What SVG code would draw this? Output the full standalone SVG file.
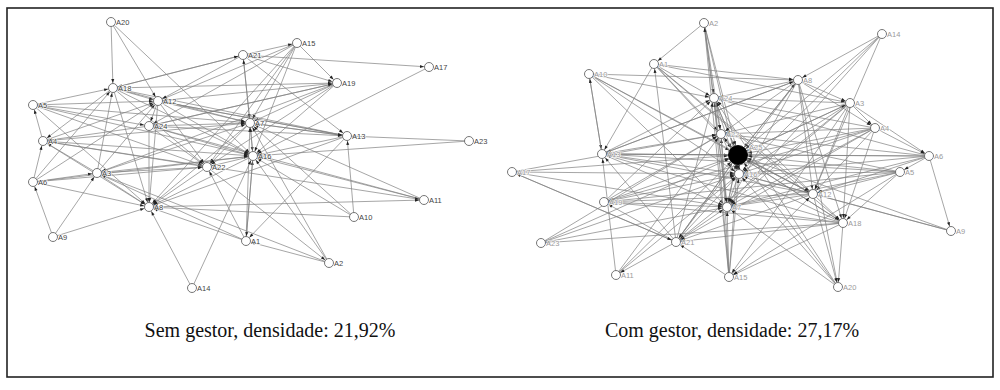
<svg xmlns="http://www.w3.org/2000/svg" width="1000" height="390" viewBox="0 0 1000 390">
<style>
.e line{stroke:#808080;stroke-width:0.7;fill:none;marker-end:url(#a)}
.e line.h{marker-end:url(#h)}
.n circle{fill:#fff;stroke:#666;stroke-width:0.9}
.n text{font-family:"Liberation Sans",Arial,sans-serif;font-size:7.5px;fill:#444;stroke:#fff;stroke-width:1.6;stroke-opacity:0.85;paint-order:stroke;stroke-linejoin:round}
.r text{fill:#9a9a9a}
.cap{font-family:"Liberation Serif","Times New Roman",serif;font-size:20px;fill:#111;text-anchor:middle}
</style>
<defs>
<marker id="a" markerUnits="userSpaceOnUse" markerWidth="20" markerHeight="20" viewBox="-20 -10 20 20" refX="0" refY="0" orient="auto"><path d="M-9,-1.5 L-5,0 L-9,1.5 z" fill="#222"/></marker>
<marker id="h" markerUnits="userSpaceOnUse" markerWidth="24" markerHeight="20" viewBox="-24 -10 24 20" refX="0" refY="0" orient="auto"><path d="M-14,-1.5 L-10,0 L-14,1.5 z" fill="#222"/></marker>
</defs>
<rect x="0" y="0" width="1000" height="390" fill="#fff"/>
<rect x="7" y="8" width="986" height="369" fill="none" stroke="#222" stroke-width="1.6"/>
<g id="connectors-left" class="e">
<line x1="111" y1="22" x2="113" y2="88"/><line x1="111" y1="22" x2="158" y2="101"/><line x1="111" y1="22" x2="253" y2="156"/>
<line x1="243" y1="55" x2="113" y2="88"/><line x1="243" y1="55" x2="158" y2="101"/><line x1="243" y1="55" x2="250" y2="123"/>
<line x1="243" y1="55" x2="337" y2="83"/><line x1="243" y1="55" x2="429" y2="67"/><line x1="243" y1="55" x2="347" y2="136"/>
<line x1="243" y1="55" x2="297" y2="43"/>
<line x1="297" y1="43" x2="250" y2="123"/><line x1="297" y1="43" x2="253" y2="156"/><line x1="297" y1="43" x2="337" y2="83"/>
<line x1="297" y1="43" x2="158" y2="101"/><line x1="297" y1="43" x2="149" y2="126"/><line x1="297" y1="43" x2="207" y2="167"/>
<line x1="297" y1="43" x2="149" y2="207"/><line x1="429" y1="67" x2="253" y2="156"/>
<line x1="337" y1="83" x2="250" y2="123"/><line x1="337" y1="83" x2="158" y2="101"/><line x1="337" y1="83" x2="149" y2="126"/>
<line x1="337" y1="83" x2="253" y2="156"/><line x1="337" y1="83" x2="207" y2="167"/><line x1="337" y1="83" x2="97" y2="173"/>
<line x1="347" y1="136" x2="250" y2="123"/><line x1="347" y1="136" x2="158" y2="101"/><line x1="347" y1="136" x2="113" y2="88"/>
<line x1="347" y1="136" x2="253" y2="156"/><line x1="354" y1="217" x2="347" y2="136"/><line x1="469" y1="141" x2="347" y2="136"/>
<line x1="469" y1="141" x2="253" y2="156"/><line x1="347" y1="136" x2="246" y2="241"/><line x1="347" y1="136" x2="149" y2="207"/>
<line x1="424" y1="200" x2="253" y2="156"/><line x1="424" y1="200" x2="250" y2="123"/><line x1="424" y1="200" x2="149" y2="126"/>
<line x1="354" y1="217" x2="253" y2="156"/><line x1="354" y1="217" x2="149" y2="207"/><line x1="354" y1="217" x2="250" y2="123"/>
<line x1="329" y1="263" x2="246" y2="241"/><line x1="329" y1="263" x2="253" y2="156"/><line x1="329" y1="263" x2="250" y2="123"/>
<line x1="329" y1="263" x2="97" y2="173"/>
<line x1="246" y1="241" x2="253" y2="156"/><line x1="246" y1="241" x2="250" y2="123"/><line x1="246" y1="241" x2="149" y2="207"/>
<line x1="246" y1="241" x2="97" y2="173"/><line x1="246" y1="241" x2="207" y2="167"/>
<line x1="192" y1="288" x2="149" y2="207"/><line x1="192" y1="288" x2="253" y2="156"/>
<line x1="53" y1="237" x2="33" y2="182"/><line x1="53" y1="237" x2="149" y2="207"/><line x1="53" y1="237" x2="97" y2="173"/>
<line x1="33" y1="182" x2="43" y2="141"/><line x1="33" y1="182" x2="97" y2="173"/><line x1="33" y1="182" x2="207" y2="167"/>
<line x1="33" y1="182" x2="253" y2="156"/><line x1="33" y1="182" x2="158" y2="101"/><line x1="33" y1="182" x2="113" y2="88"/>
<line x1="33" y1="182" x2="149" y2="207"/>
<line x1="97" y1="173" x2="207" y2="167"/><line x1="97" y1="173" x2="149" y2="207"/><line x1="97" y1="173" x2="113" y2="88"/>
<line x1="97" y1="173" x2="158" y2="101"/><line x1="97" y1="173" x2="250" y2="123"/><line x1="97" y1="173" x2="253" y2="156"/>
<line x1="97" y1="173" x2="43" y2="141"/>
<line x1="43" y1="141" x2="33" y2="105"/><line x1="43" y1="141" x2="253" y2="156"/><line x1="43" y1="141" x2="250" y2="123"/>
<line x1="43" y1="141" x2="207" y2="167"/><line x1="43" y1="141" x2="158" y2="101"/><line x1="43" y1="141" x2="149" y2="207"/>
<line x1="33" y1="105" x2="113" y2="88"/><line x1="33" y1="105" x2="158" y2="101"/><line x1="33" y1="105" x2="250" y2="123"/>
<line x1="33" y1="105" x2="253" y2="156"/><line x1="33" y1="105" x2="149" y2="126"/><line x1="33" y1="105" x2="207" y2="167"/>
<line x1="33" y1="105" x2="149" y2="207"/>
<line x1="113" y1="88" x2="158" y2="101"/><line x1="113" y1="88" x2="250" y2="123"/><line x1="113" y1="88" x2="253" y2="156"/>
<line x1="113" y1="88" x2="149" y2="207"/><line x1="113" y1="88" x2="43" y2="141"/><line x1="113" y1="88" x2="207" y2="167"/>
<line x1="113" y1="88" x2="243" y2="55"/>
<line x1="158" y1="101" x2="250" y2="123"/><line x1="158" y1="101" x2="149" y2="126"/><line x1="158" y1="101" x2="253" y2="156"/>
<line x1="158" y1="101" x2="149" y2="207"/><line x1="158" y1="101" x2="207" y2="167"/>
<line x1="149" y1="126" x2="250" y2="123"/><line x1="149" y1="126" x2="253" y2="156"/><line x1="149" y1="126" x2="149" y2="207"/>
<line x1="149" y1="126" x2="207" y2="167"/><line x1="149" y1="126" x2="43" y2="141"/><line x1="149" y1="126" x2="347" y2="136"/>
<line x1="250" y1="123" x2="253" y2="156"/><line x1="250" y1="123" x2="207" y2="167"/><line x1="250" y1="123" x2="149" y2="207"/>
<line x1="250" y1="123" x2="347" y2="136"/>
<line x1="253" y1="156" x2="207" y2="167"/><line x1="253" y1="156" x2="149" y2="207"/><line x1="253" y1="156" x2="246" y2="241"/>
<line x1="207" y1="167" x2="149" y2="207"/><line x1="207" y1="167" x2="329" y2="263"/>
<line x1="158" y1="101" x2="347" y2="136"/><line x1="149" y1="126" x2="337" y2="83"/><line x1="113" y1="88" x2="337" y2="83"/>
<line x1="149" y1="207" x2="424" y2="200"/><line x1="43" y1="141" x2="424" y2="200"/>
<line x1="250" y1="123" x2="243" y2="55"/><line x1="253" y1="156" x2="250" y2="123"/>
</g>
<g id="connectors-right" class="e">
<line class="h" x1="704" y1="23" x2="738" y2="155"/><line class="h" x1="654" y1="64" x2="738" y2="155"/><line class="h" x1="589" y1="74" x2="738" y2="155"/>
<line class="h" x1="798" y1="80" x2="738" y2="155"/><line class="h" x1="850" y1="103" x2="738" y2="155"/><line class="h" x1="875" y1="128" x2="738" y2="155"/>
<line class="h" x1="929" y1="156" x2="738" y2="155"/><line class="h" x1="900" y1="172" x2="738" y2="155"/><line class="h" x1="951" y1="231" x2="738" y2="155"/>
<line class="h" x1="813" y1="194" x2="738" y2="155"/><line class="h" x1="843" y1="223" x2="738" y2="155"/><line class="h" x1="838" y1="287" x2="738" y2="155"/>
<line class="h" x1="729" y1="277" x2="738" y2="155"/><line class="h" x1="676" y1="242" x2="738" y2="155"/><line class="h" x1="616" y1="275" x2="738" y2="155"/>
<line class="h" x1="541" y1="243" x2="738" y2="155"/><line class="h" x1="604" y1="202" x2="738" y2="155"/><line class="h" x1="512" y1="172" x2="738" y2="155"/>
<line class="h" x1="602" y1="154" x2="738" y2="155"/><line class="h" x1="714" y1="98" x2="738" y2="155"/><line class="h" x1="721" y1="134" x2="738" y2="155"/>
<line class="h" x1="739" y1="174" x2="738" y2="155"/><line class="h" x1="727" y1="207" x2="738" y2="155"/><line class="h" x1="882" y1="34" x2="738" y2="155"/>
<line x1="738" y1="155" x2="714" y2="98"/><line x1="738" y1="155" x2="721" y2="134"/><line x1="738" y1="155" x2="739" y2="174"/>
<line x1="738" y1="155" x2="727" y2="207"/><line x1="738" y1="155" x2="813" y2="194"/><line x1="738" y1="155" x2="843" y2="223"/>
<line x1="738" y1="155" x2="850" y2="103"/><line x1="738" y1="155" x2="798" y2="80"/><line x1="738" y1="155" x2="676" y2="242"/>
<line x1="738" y1="155" x2="602" y2="154"/>
<line x1="704" y1="23" x2="654" y2="64"/><line x1="704" y1="23" x2="714" y2="98"/><line x1="704" y1="23" x2="739" y2="174"/>
<line x1="704" y1="23" x2="727" y2="207"/><line x1="704" y1="23" x2="721" y2="134"/>
<line x1="654" y1="64" x2="798" y2="80"/><line x1="654" y1="64" x2="714" y2="98"/><line x1="654" y1="64" x2="602" y2="154"/>
<line x1="654" y1="64" x2="813" y2="194"/><line x1="654" y1="64" x2="843" y2="223"/><line x1="654" y1="64" x2="850" y2="103"/>
<line x1="654" y1="64" x2="721" y2="134"/>
<line x1="589" y1="74" x2="798" y2="80"/><line x1="589" y1="74" x2="714" y2="98"/><line x1="589" y1="74" x2="602" y2="154"/>
<line x1="589" y1="74" x2="813" y2="194"/><line x1="589" y1="74" x2="727" y2="207"/><line x1="589" y1="74" x2="739" y2="174"/>
<line x1="882" y1="34" x2="798" y2="80"/><line x1="882" y1="34" x2="727" y2="207"/><line x1="882" y1="34" x2="813" y2="194"/>
<line x1="882" y1="34" x2="739" y2="174"/>
<line x1="798" y1="80" x2="714" y2="98"/><line x1="798" y1="80" x2="721" y2="134"/><line x1="798" y1="80" x2="850" y2="103"/>
<line x1="798" y1="80" x2="875" y2="128"/><line x1="798" y1="80" x2="813" y2="194"/><line x1="798" y1="80" x2="843" y2="223"/>
<line x1="798" y1="80" x2="838" y2="287"/><line x1="798" y1="80" x2="727" y2="207"/><line x1="798" y1="80" x2="676" y2="242"/>
<line x1="798" y1="80" x2="602" y2="154"/>
<line x1="850" y1="103" x2="875" y2="128"/><line x1="850" y1="103" x2="929" y2="156"/><line x1="850" y1="103" x2="721" y2="134"/>
<line x1="850" y1="103" x2="714" y2="98"/><line x1="850" y1="103" x2="727" y2="207"/><line x1="850" y1="103" x2="813" y2="194"/>
<line x1="850" y1="103" x2="843" y2="223"/><line x1="850" y1="103" x2="729" y2="277"/><line x1="850" y1="103" x2="676" y2="242"/>
<line x1="850" y1="103" x2="739" y2="174"/>
<line x1="875" y1="128" x2="929" y2="156"/><line x1="875" y1="128" x2="739" y2="174"/><line x1="875" y1="128" x2="727" y2="207"/>
<line x1="875" y1="128" x2="813" y2="194"/><line x1="875" y1="128" x2="843" y2="223"/><line x1="875" y1="128" x2="604" y2="202"/>
<line x1="875" y1="128" x2="676" y2="242"/><line x1="875" y1="128" x2="721" y2="134"/><line x1="875" y1="128" x2="714" y2="98"/>
<line x1="929" y1="156" x2="739" y2="174"/><line x1="929" y1="156" x2="714" y2="98"/><line x1="929" y1="156" x2="721" y2="134"/>
<line x1="929" y1="156" x2="951" y2="231"/><line x1="929" y1="156" x2="813" y2="194"/><line x1="929" y1="156" x2="727" y2="207"/>
<line x1="929" y1="156" x2="900" y2="172"/><line x1="929" y1="156" x2="602" y2="154"/>
<line x1="900" y1="172" x2="739" y2="174"/><line x1="900" y1="172" x2="727" y2="207"/><line x1="900" y1="172" x2="813" y2="194"/>
<line x1="900" y1="172" x2="843" y2="223"/><line x1="900" y1="172" x2="729" y2="277"/><line x1="900" y1="172" x2="602" y2="154"/>
<line x1="900" y1="172" x2="604" y2="202"/><line x1="900" y1="172" x2="721" y2="134"/>
<line x1="951" y1="231" x2="813" y2="194"/><line x1="951" y1="231" x2="739" y2="174"/>
<line x1="813" y1="194" x2="739" y2="174"/><line x1="813" y1="194" x2="727" y2="207"/><line x1="813" y1="194" x2="843" y2="223"/>
<line x1="813" y1="194" x2="838" y2="287"/><line x1="813" y1="194" x2="676" y2="242"/><line x1="813" y1="194" x2="602" y2="154"/>
<line x1="813" y1="194" x2="604" y2="202"/><line x1="813" y1="194" x2="714" y2="98"/>
<line x1="843" y1="223" x2="727" y2="207"/><line x1="843" y1="223" x2="838" y2="287"/><line x1="843" y1="223" x2="676" y2="242"/>
<line x1="843" y1="223" x2="604" y2="202"/><line x1="843" y1="223" x2="602" y2="154"/><line x1="843" y1="223" x2="541" y2="243"/>
<line x1="843" y1="223" x2="729" y2="277"/><line x1="843" y1="223" x2="739" y2="174"/>
<line x1="838" y1="287" x2="727" y2="207"/><line x1="838" y1="287" x2="739" y2="174"/><line x1="838" y1="287" x2="714" y2="98"/>
<line x1="729" y1="277" x2="727" y2="207"/><line x1="729" y1="277" x2="739" y2="174"/><line x1="729" y1="277" x2="704" y2="23"/>
<line x1="729" y1="277" x2="721" y2="134"/><line x1="729" y1="277" x2="714" y2="98"/><line x1="729" y1="277" x2="676" y2="242"/>
<line x1="729" y1="277" x2="813" y2="194"/>
<line x1="676" y1="242" x2="727" y2="207"/><line x1="676" y1="242" x2="604" y2="202"/><line x1="676" y1="242" x2="512" y2="172"/>
<line x1="676" y1="242" x2="602" y2="154"/><line x1="676" y1="242" x2="739" y2="174"/><line x1="676" y1="242" x2="654" y2="64"/>
<line x1="676" y1="242" x2="616" y2="275"/><line x1="676" y1="242" x2="714" y2="98"/>
<line x1="616" y1="275" x2="739" y2="174"/><line x1="616" y1="275" x2="721" y2="134"/><line x1="616" y1="275" x2="602" y2="154"/>
<line x1="541" y1="243" x2="727" y2="207"/><line x1="541" y1="243" x2="739" y2="174"/><line x1="541" y1="243" x2="721" y2="134"/>
<line x1="604" y1="202" x2="727" y2="207"/><line x1="604" y1="202" x2="739" y2="174"/><line x1="604" y1="202" x2="714" y2="98"/>
<line x1="604" y1="202" x2="721" y2="134"/>
<line x1="512" y1="172" x2="739" y2="174"/><line x1="512" y1="172" x2="676" y2="242"/><line x1="512" y1="172" x2="721" y2="134"/>
<line x1="512" y1="172" x2="727" y2="207"/>
<line x1="602" y1="154" x2="739" y2="174"/><line x1="602" y1="154" x2="721" y2="134"/><line x1="602" y1="154" x2="727" y2="207"/>
<line x1="602" y1="154" x2="589" y2="74"/><line x1="602" y1="154" x2="714" y2="98"/><line x1="602" y1="154" x2="798" y2="80"/>
<line x1="714" y1="98" x2="721" y2="134"/><line x1="714" y1="98" x2="739" y2="174"/><line x1="714" y1="98" x2="727" y2="207"/>
<line x1="721" y1="134" x2="739" y2="174"/><line x1="721" y1="134" x2="727" y2="207"/><line x1="739" y1="174" x2="727" y2="207"/>
</g>
<g class="n">
<g id="L-A1"><circle cx="246" cy="241" r="4.5"/><text x="251" y="244">A1</text></g>
<g id="L-A2"><circle cx="329" cy="263" r="4.5"/><text x="334" y="266">A2</text></g>
<g id="L-A3"><circle cx="97" cy="173" r="4.5"/><text x="102" y="176">A3</text></g>
<g id="L-A4"><circle cx="43" cy="141" r="4.5"/><text x="48" y="144">A4</text></g>
<g id="L-A5"><circle cx="33" cy="105" r="4.5"/><text x="38" y="108">A5</text></g>
<g id="L-A6"><circle cx="33" cy="182" r="4.5"/><text x="38" y="185">A6</text></g>
<g id="L-A7"><circle cx="250" cy="123" r="4.5"/><text x="255" y="126">A7</text></g>
<g id="L-A8"><circle cx="149" cy="207" r="4.5"/><text x="154" y="210">A8</text></g>
<g id="L-A9"><circle cx="53" cy="237" r="4.5"/><text x="58" y="240">A9</text></g>
<g id="L-A10"><circle cx="354" cy="217" r="4.5"/><text x="359" y="220">A10</text></g>
<g id="L-A11"><circle cx="424" cy="200" r="4.5"/><text x="429" y="203">A11</text></g>
<g id="L-A12"><circle cx="158" cy="101" r="4.5"/><text x="163" y="104">A12</text></g>
<g id="L-A13"><circle cx="347" cy="136" r="4.5"/><text x="352" y="139">A13</text></g>
<g id="L-A14"><circle cx="192" cy="288" r="4.5"/><text x="197" y="291">A14</text></g>
<g id="L-A15"><circle cx="297" cy="43" r="4.5"/><text x="302" y="46">A15</text></g>
<g id="L-A16"><circle cx="253" cy="156" r="4.5"/><text x="258" y="159">A16</text></g>
<g id="L-A17"><circle cx="429" cy="67" r="4.5"/><text x="434" y="70">A17</text></g>
<g id="L-A18"><circle cx="113" cy="88" r="4.5"/><text x="118" y="91">A18</text></g>
<g id="L-A19"><circle cx="337" cy="83" r="4.5"/><text x="342" y="86">A19</text></g>
<g id="L-A20"><circle cx="111" cy="22" r="4.5"/><text x="116" y="25">A20</text></g>
<g id="L-A21"><circle cx="243" cy="55" r="4.5"/><text x="248" y="58">A21</text></g>
<g id="L-A22"><circle cx="207" cy="167" r="4.5"/><text x="212" y="170">A22</text></g>
<g id="L-A23"><circle cx="469" cy="141" r="4.5"/><text x="474" y="144">A23</text></g>
<g id="L-A24"><circle cx="149" cy="126" r="4.5"/><text x="154" y="129">A24</text></g>
</g>
<g class="n r">
<g id="R-A1"><circle cx="654" cy="64" r="4.5"/><text x="659" y="67">A1</text></g>
<g id="R-A2"><circle cx="704" cy="23" r="4.5"/><text x="709" y="26">A2</text></g>
<g id="R-A3"><circle cx="850" cy="103" r="4.5"/><text x="855" y="106">A3</text></g>
<g id="R-A4"><circle cx="875" cy="128" r="4.5"/><text x="880" y="131">A4</text></g>
<g id="R-A5"><circle cx="900" cy="172" r="4.5"/><text x="905" y="175">A5</text></g>
<g id="R-A6"><circle cx="929" cy="156" r="4.5"/><text x="934" y="159">A6</text></g>
<g id="R-A7"><circle cx="727" cy="207" r="4.5"/><text x="732" y="210">A7</text></g>
<g id="R-A8"><circle cx="798" cy="80" r="4.5"/><text x="803" y="83">A8</text></g>
<g id="R-A9"><circle cx="951" cy="231" r="4.5"/><text x="956" y="234">A9</text></g>
<g id="R-A10"><circle cx="589" cy="74" r="4.5"/><text x="594" y="77">A10</text></g>
<g id="R-A11"><circle cx="616" cy="275" r="4.5"/><text x="621" y="278">A11</text></g>
<g id="R-A12"><circle cx="813" cy="194" r="4.5"/><text x="818" y="197">A12</text></g>
<g id="R-A13"><circle cx="602" cy="154" r="4.5"/><text x="607" y="157">A13</text></g>
<g id="R-A14"><circle cx="882" cy="34" r="4.5"/><text x="887" y="37">A14</text></g>
<g id="R-A15"><circle cx="729" cy="277" r="4.5"/><text x="734" y="280">A15</text></g>
<g id="R-A16"><circle cx="739" cy="174" r="4.5"/><text x="744" y="177">A16</text></g>
<g id="R-A17"><circle cx="512" cy="172" r="4.5"/><text x="517" y="175">A17</text></g>
<g id="R-A18"><circle cx="843" cy="223" r="4.5"/><text x="848" y="226">A18</text></g>
<g id="R-A19"><circle cx="604" cy="202" r="4.5"/><text x="609" y="205">A19</text></g>
<g id="R-A20"><circle cx="838" cy="287" r="4.5"/><text x="843" y="290">A20</text></g>
<g id="R-A21"><circle cx="676" cy="242" r="4.5"/><text x="681" y="245">A21</text></g>
<g id="R-A22"><circle cx="721" cy="134" r="4.5"/><text x="726" y="137">A22</text></g>
<g id="R-A23"><circle cx="541" cy="243" r="4.5"/><text x="546" y="246">A23</text></g>
<g id="R-A24"><circle cx="714" cy="98" r="4.5"/><text x="719" y="101">A24</text></g>
<g id="R-A25"><circle cx="738" cy="155" r="9.5" style="fill:#000;stroke:#000"/><text x="749" y="150">A25</text></g>
</g>
<text class="cap" x="270" y="337">Sem gestor, densidade: 21,92%</text>
<text class="cap" x="732" y="337">Com gestor, densidade: 27,17%</text>
</svg>
